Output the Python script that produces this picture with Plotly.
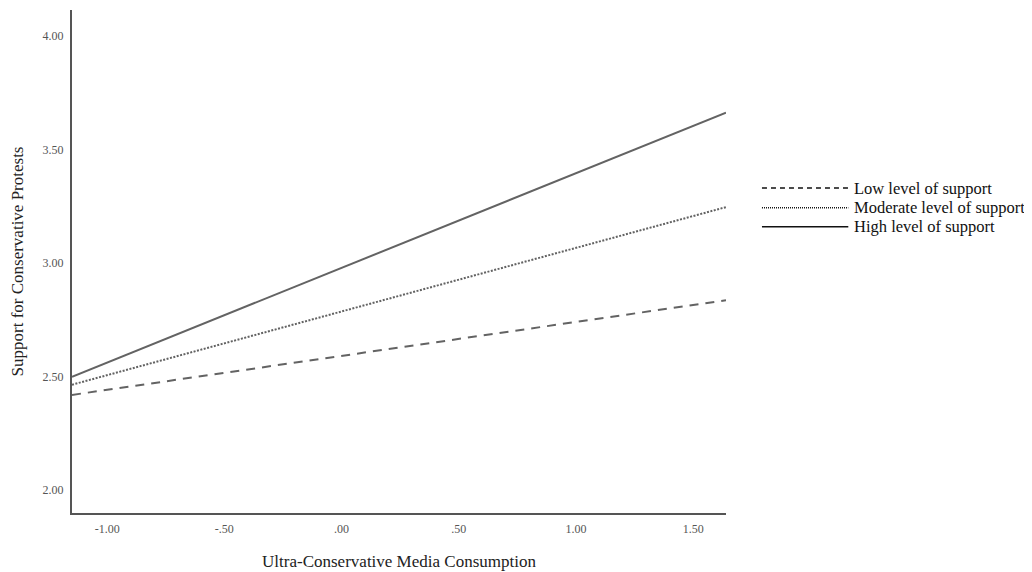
import plotly.graph_objects as go

# Data
x_vals = [-1.15, 1.64]
low_support = [2.42, 2.837]
moderate_support = [2.465, 3.247]
high_support = [2.50, 3.663]

series_names = ["Low level of support", "Moderate level of support", "High level of support"]
series_values = [low_support, moderate_support, high_support]
series_dash = ["9px,7px", "2px,1.5px", "solid"]

x_ticks = [-1.0, -0.5, 0.0, 0.5, 1.0, 1.5]
x_tick_labels = ["-1.00", "-.50", ".00", ".50", "1.00", "1.50"]
y_ticks = [2.0, 2.5, 3.0, 3.5, 4.0]
y_tick_labels = ["2.00", "2.50", "3.00", "3.50", "4.00"]

FONT = "Liberation Serif, Times New Roman, serif"
LINE_COLOR = "#636363"

fig = go.Figure()
for name, vals, dash in zip(series_names, series_values, series_dash):
    fig.add_trace(go.Scatter(
        x=x_vals, y=vals, mode="lines", name=name,
        line=dict(color=LINE_COLOR, width=2, dash=dash),
        showlegend=False, hoverinfo="skip",
    ))

# Custom legend (long line samples as in the reference)
legend_rows_y = [0.646, 0.607, 0.569]
legend_dash = ["5px,4px", "1px,1px", "solid"]
for name, yy, dash in zip(series_names, legend_rows_y, legend_dash):
    fig.add_shape(type="line", xref="paper", yref="paper",
                  x0=1.055, x1=1.187, y0=yy, y1=yy,
                  line=dict(color="#111111", width=1.5, dash=dash))
    fig.add_annotation(xref="paper", yref="paper", x=1.193, y=yy,
                       text=name, showarrow=False, xanchor="left", yanchor="middle",
                       font=dict(family=FONT, size=16.5, color="#111111"))

fig.update_layout(
    width=1032, height=572,
    margin=dict(l=64, r=314, t=2, b=67),
    paper_bgcolor="white", plot_bgcolor="white",
    font=dict(family=FONT, color="#222222"),
    showlegend=False,
)
fig.update_xaxes(
    range=[-1.15, 1.64], tickvals=x_ticks, ticktext=x_tick_labels,
    showgrid=False, zeroline=False, showline=True, linecolor="#555555", linewidth=2,
    ticks="", ticklabelstandoff=4, tickfont=dict(family=FONT, size=12, color="#555555"),
    title=dict(text="Ultra-Conservative Media Consumption", font=dict(family=FONT, size=17, color="#222222"), standoff=20),
)
fig.update_yaxes(
    range=[1.90, 4.115], tickvals=y_ticks, ticktext=y_tick_labels,
    showgrid=False, zeroline=False, showline=True, linecolor="#555555", linewidth=2,
    ticks="", ticklabelstandoff=4, tickfont=dict(family=FONT, size=12, color="#555555"),
    title=dict(text="Support for Conservative Protests", font=dict(family=FONT, size=17, color="#222222"), standoff=20),
)

fig.write_html("out.html")
